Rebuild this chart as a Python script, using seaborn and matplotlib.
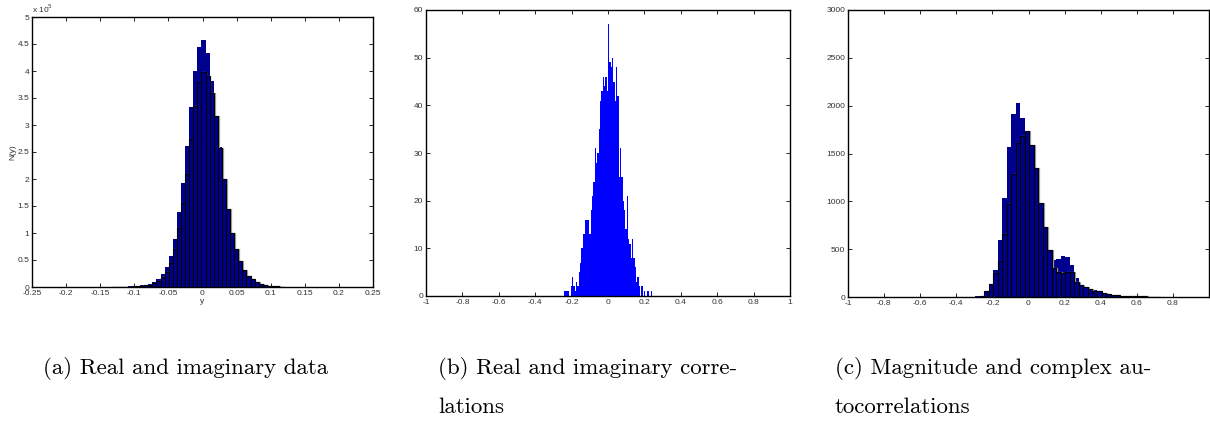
import numpy as np
import pandas as pd
import matplotlib
matplotlib.use("Agg")
import matplotlib.pyplot as plt
import seaborn as sns
from matplotlib.ticker import FuncFormatter, MultipleLocator

# ---------------- data ----------------
# (a) Real and imaginary data: counts in units of 1e5, bins of width 0.006
a_bin_lo = -0.1335
a_bin_w = 0.006
a_real_e5 = [0.002, 0.003, 0.005, 0.007, 0.01, 0.015, 0.02, 0.03, 0.04, 0.06,
             0.09, 0.14, 0.24, 0.37, 0.57, 0.88, 1.38, 1.92, 2.62, 3.34,
             4.0, 4.44, 4.57, 4.33, 3.82, 3.16, 2.6, 2.0, 1.35, 0.9,
             0.6, 0.38, 0.24, 0.15, 0.1, 0.065, 0.045, 0.03, 0.02, 0.013,
             0.008, 0.005]
a_imag_e5 = [0.001, 0.002, 0.003, 0.005, 0.007, 0.01, 0.015, 0.02, 0.03, 0.045,
             0.07, 0.11, 0.18, 0.28, 0.45, 0.7, 1.1, 1.55, 2.1, 2.75,
             3.35, 3.8, 3.99, 3.91, 3.59, 3.16, 2.57, 2.0, 1.45, 1.0,
             0.7, 0.48, 0.32, 0.21, 0.14, 0.09, 0.06, 0.04, 0.025, 0.015,
             0.01, 0.006]

# (b) Real and imaginary correlations: fine bins
b_bin_lo = -0.2418
b_bin_w = 0.00733
b_counts = [1, 1, 1, 1, 0, 2, 4, 2, 1, 3, 2, 5, 7, 10, 13, 13, 16, 16, 16, 13,
            18, 21, 24, 31, 28, 30, 35, 41, 43, 46, 44, 46, 43, 57, 49, 48, 50, 45,
            41, 48, 42, 25, 31, 25, 20, 18, 14, 21, 12, 11, 8, 12, 8, 6, 3, 4,
            2, 0, 2, 0, 1, 0, 1, 1, 0, 1, 0]

# (c) Magnitude and complex autocorrelations: bins of width 0.025
c_bin_lo = -0.2955
c_bin_w = 0.025
c_mag = [8, 15, 30, 140, 285, 596, 1031, 1564, 1912, 2030,
         1867, 1600, 1450, 1100, 780, 530, 390, 385, 395, 428,
         420, 330, 200, 130, 90, 60, 75, 55, 40, 25,
         20, 15, 15, 12, 8, 5, 8, 5, 3, 2, 1]
c_cplx = [5, 15, 63, 133, 248, 376, 658, 972, 1285, 1606,
          1682, 1735, 1588, 1345, 979, 735, 491, 300, 265, 247,
          258, 265, 160, 130, 100, 80, 60, 60, 45, 35,
          25, 20, 15, 12, 10, 10, 8, 6, 4, 3, 2]

captions = [["(a) Real and imaginary data"],
            ["(b) Real and imaginary corre-", "lations"],
            ["(c) Magnitude and complex au-", "tocorrelations"]]

# ---------------- style ----------------
sns.set_style("ticks")
plt.rcParams["font.family"] = ["Liberation Sans", "DejaVu Sans"]
plt.rcParams["axes.unicode_minus"] = False

DARK = "#00008f"
BLUE = "#0000ff"
SHADOW = "#a0a0a0"
TICK_COL = "#333333"
TICK_FS = 6


def edges(lo, w, n, shift=0.0):
    return [float(lo + shift + w * i) for i in range(n + 1)]


def hist_frame(lo, w, counts, scale=1.0, shift=0.0):
    n = len(counts)
    return pd.DataFrame({"x": [lo + shift + w * (i + 0.5) for i in range(n)],
                         "w": [float(c) * scale for c in counts]})


def pair_hist(ax, lo, w, back, front, scale, shadow_shift):
    n = len(back)
    sns.histplot(data=hist_frame(lo, w, back, scale), x="x", weights="w",
                 bins=edges(lo, w, n), color=DARK, alpha=1,
                 edgecolor=DARK, linewidth=0, ax=ax)
    sns.histplot(data=hist_frame(lo, w, front, scale, shadow_shift), x="x", weights="w",
                 bins=edges(lo, w, n, shadow_shift), fill=False, color=SHADOW,
                 edgecolor=SHADOW, linewidth=0.9, ax=ax)
    sns.histplot(data=hist_frame(lo, w, front, scale), x="x", weights="w",
                 bins=edges(lo, w, n), color=DARK, alpha=1,
                 edgecolor="black", linewidth=0.8, ax=ax)


def matlab_axes(ax):
    for s in ax.spines.values():
        s.set_visible(True)
        s.set_color("black")
        s.set_linewidth(1.0)
    ax.tick_params(direction="in", length=3, width=0.6, top=True, right=True,
                   labelsize=TICK_FS, labelcolor=TICK_COL, pad=2, color="black")
    ax.set_facecolor("white")
    ax.set_xlabel("")
    ax.set_ylabel("")


gfmt = FuncFormatter(lambda v, p: ("%g" % round(v, 6)))

fig = plt.figure(figsize=(12.1, 4.45), dpi=100)
W, H = 1210.0, 445.0


def add_axes_px(l, t, r, b):
    return fig.add_axes([l / W, 1 - b / H, (r - l) / W, (b - t) / H])


# ---- (a)
axa = add_axes_px(32, 17, 373, 287)
pair_hist(axa, a_bin_lo, a_bin_w, a_real_e5, a_imag_e5, 1e5, 0.0012)
axa.set_xlim(-0.25, 0.25)
axa.set_ylim(0, 5e5)
axa.xaxis.set_major_locator(MultipleLocator(0.05))
axa.yaxis.set_major_locator(MultipleLocator(0.5e5))
axa.xaxis.set_major_formatter(gfmt)
axa.yaxis.set_major_formatter(FuncFormatter(lambda v, p: "%g" % round(v / 1e5, 3)))
matlab_axes(axa)
axa.set_xlabel("y", fontsize=TICK_FS, color=TICK_COL, labelpad=1)
axa.set_ylabel("N(y)", fontsize=TICK_FS, color=TICK_COL, labelpad=1)
axa.text(0.0, 1.008, r"x 10$^5$", transform=axa.transAxes, fontsize=TICK_FS,
         color=TICK_COL, va="bottom", ha="left")

# ---- (b)
axb = add_axes_px(426, 10, 790, 296)
nb = len(b_counts)
sns.histplot(data=hist_frame(b_bin_lo, b_bin_w, b_counts), x="x", weights="w",
             bins=edges(b_bin_lo, b_bin_w, nb), color=BLUE, alpha=1,
             edgecolor=BLUE, linewidth=0, ax=axb)
axb.set_xlim(-1, 1)
axb.set_ylim(0, 60)
axb.xaxis.set_major_locator(MultipleLocator(0.2))
axb.yaxis.set_major_locator(MultipleLocator(10))
axb.xaxis.set_major_formatter(gfmt)
axb.yaxis.set_major_formatter(gfmt)
matlab_axes(axb)

# ---- (c)
axc = add_axes_px(848, 10, 1209, 297)
pair_hist(axc, c_bin_lo, c_bin_w, c_mag, c_cplx, 1.0, 0.005)
axc.set_xlim(-1, 1)
axc.set_ylim(0, 3000)
axc.xaxis.set_major_locator(MultipleLocator(0.2))
axc.yaxis.set_major_locator(MultipleLocator(500))
axc.xaxis.set_major_formatter(FuncFormatter(
    lambda v, p: "" if v > 0.95 else "%g" % round(v, 6)))
axc.yaxis.set_major_formatter(gfmt)
matlab_axes(axc)

# ---- captions
cap_font = ["cmr10", "DejaVu Serif"]
cap_pos = [(43, 368), (438, 368), (835, 368)]
for (x, y), lines in zip(cap_pos, captions):
    for i, line in enumerate(lines):
        fig.text(x / W, 1 - (y + 39 * i) / H, line, family=cap_font,
                 fontsize=16.5, va="center", ha="left", color="black")

fig.savefig("out.png", dpi=100)
